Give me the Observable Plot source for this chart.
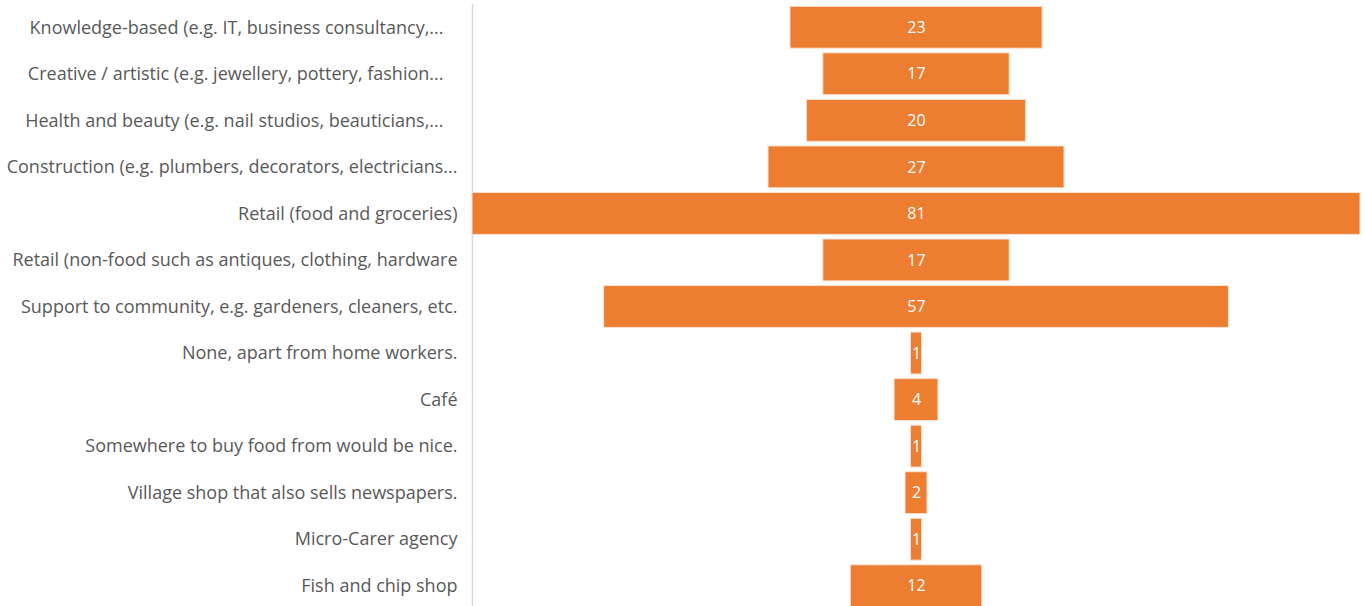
<!DOCTYPE html>
<html>
<head>
<meta charset="utf-8">
<script src="https://cdn.jsdelivr.net/npm/d3@7"></script>
<script src="https://cdn.jsdelivr.net/npm/@observablehq/plot@0.6"></script>
<style>
  html, body { margin: 0; padding: 0; background: #fff; overflow: hidden; }
</style>
</head>
<body>
<div id="chart"></div>
<script>
const categories = [
  "Knowledge-based (e.g. IT, business consultancy,...",
  "Creative / artistic (e.g. jewellery, pottery, fashion...",
  "Health and beauty (e.g. nail studios, beauticians,...",
  "Construction (e.g. plumbers, decorators, electricians...",
  "Retail (food and groceries)",
  "Retail (non-food such as antiques, clothing, hardware",
  "Support to community, e.g. gardeners, cleaners, etc.",
  "None, apart from home workers.",
  "Café",
  "Somewhere to buy food from would be nice.",
  "Village shop that also sells newspapers.",
  "Micro-Carer agency",
  "Fish and chip shop"
];
const values = [23, 17, 20, 27, 81, 17, 57, 1, 4, 1, 2, 1, 12];
// labels that the original renders slightly inset (Excel truncation)
const insetLabels = categories.slice(0, 3);

const data = categories.map((c, i) => ({category: c, value: values[i]}));

const chart = Plot.plot({
  width: 1365,
  height: 609,
  marginTop: 4,
  marginBottom: 0,
  marginLeft: 472,
  marginRight: 5,
  style: {fontFamily: "'Open Sans', sans-serif", fontSize: "18px", color: "#595959", background: "#fff"},
  x: {domain: [-40.5, 40.5], axis: null},
  y: {domain: categories, paddingInner: 0.1, paddingOuter: 0.05, round: false, label: null, tickSize: 0, tickPadding: 15},
  marks: [
    Plot.ruleX([-40.5], {stroke: "#d9d9d9", strokeWidth: 1.5}),
    Plot.barX(data, {
      y: "category",
      x1: d => -d.value / 2,
      x2: d => d.value / 2,
      fill: "#ED7D31",
      stroke: "#fbe2d2",
      strokeWidth: 1
    }),
    Plot.text(data, {
      y: "category",
      x: 0,
      text: d => String(d.value),
      fill: "white",
      fontSize: 16
    })
  ]
});
chart.querySelectorAll('[aria-label="y-axis tick label"] text').forEach(t => {
  t.setAttribute("fill", "#595959");
  if (insetLabels.includes(t.textContent)) t.setAttribute("dx", "-14");
});
document.getElementById("chart").appendChild(chart);
</script>
</body>
</html>
